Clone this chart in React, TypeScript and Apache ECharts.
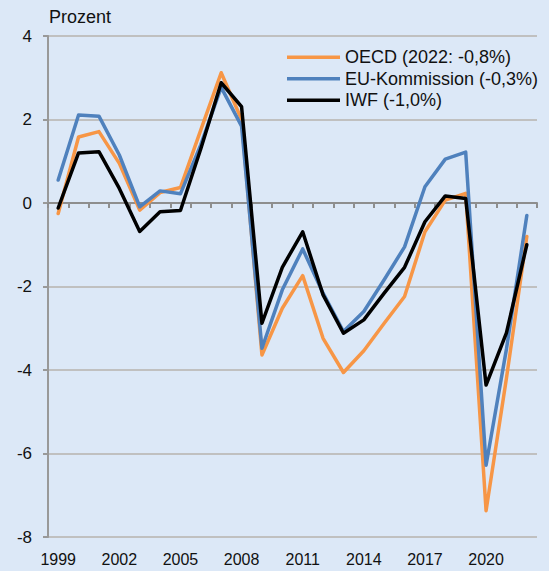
import React, { useEffect, useRef } from "react";
import * as echarts from "echarts";

const years = ["1999","2000","2001","2002","2003","2004","2005","2006","2007","2008","2009","2010","2011","2012","2013","2014","2015","2016","2017","2018","2019","2020","2021","2022"];
const oecd = [-0.25, 1.58, 1.71, 0.95, -0.17, 0.25, 0.37, 1.75, 3.12, 2.0, -3.64, -2.52, -1.74, -3.24, -4.06, -3.54, -2.88, -2.24, -0.69, 0.07, 0.23, -7.37, -4.2, -0.8];
const eu = [0.55, 2.11, 2.08, 1.15, -0.09, 0.29, 0.22, 1.4, 2.77, 1.84, -3.48, -2.08, -1.1, -2.16, -3.08, -2.6, -1.84, -1.05, 0.39, 1.05, 1.22, -6.28, -3.5, -0.3];
const iwf = [-0.12, 1.2, 1.23, 0.35, -0.68, -0.21, -0.18, 1.3, 2.88, 2.31, -2.88, -1.54, -0.69, -2.2, -3.12, -2.8, -2.16, -1.54, -0.45, 0.17, 0.11, -4.36, -3.11, -1.0];
const seriesNames = ["OECD (2022: -0,8%)", "EU-Kommission (-0,3%)", "IWF (-1,0%)"];
const yAxisTitle = "Prozent";

const FONT = "'Liberation Sans', Arial, sans-serif";

export default function App() {
  const ref = useRef<HTMLDivElement>(null);
  useEffect(() => {
    if (!ref.current) return;
    const chart = echarts.init(ref.current, null, { renderer: "svg" });
    const lineSeries = (name: string, data: number[], color: string) => ({
      name,
      type: "line",
      data,
      xAxisIndex: 0,
      yAxisIndex: 0,
      symbol: "none",
      smooth: false,
      lineStyle: { color, width: 3.5, join: "round", cap: "round" },
      itemStyle: { color },
    });
    chart.setOption({
      animation: false,
      backgroundColor: "#DCE8F7",
      textStyle: { fontFamily: FONT },
      title: {
        text: yAxisTitle,
        left: 49,
        top: 8,
        padding: 0,
        textStyle: { fontFamily: FONT, fontSize: 18, fontWeight: "normal", color: "#111" },
      },
      legend: {
        orient: "vertical",
        left: 287,
        top: 46.5,
        padding: 0,
        itemGap: 0,
        itemWidth: 53,
        itemHeight: 3.5,
        icon: "rect",
        textStyle: { fontFamily: FONT, fontSize: 18, color: "#111", lineHeight: 21.5 },
        data: seriesNames,
      },
      grid: { left: 48, right: 12, top: 36, bottom: 34, containLabel: false },
      xAxis: [
        {
          type: "category",
          data: years,
          position: "bottom",
          boundaryGap: true,
          axisLine: { show: false, onZero: false },
          axisTick: { show: false },
          axisLabel: { interval: 2, margin: 14, fontSize: 16, color: "#111", fontFamily: FONT },
          splitLine: { show: false },
        },
        {
          type: "category",
          data: years,
          position: "bottom",
          boundaryGap: true,
          axisLine: { show: true, onZero: true, lineStyle: { color: "#8E8E8E", width: 2 } },
          axisTick: { show: true, interval: 0, length: 5, lineStyle: { color: "#8E8E8E", width: 2 } },
          axisLabel: { show: false },
          splitLine: { show: false },
        },
      ],
      yAxis: {
        type: "value",
        min: -8,
        max: 4,
        interval: 2,
        axisLine: { show: true, lineStyle: { color: "#999999", width: 2 } },
        axisTick: { show: true, length: 5, lineStyle: { color: "#999999", width: 2 } },
        axisLabel: { margin: 16, fontSize: 17, color: "#111", fontFamily: FONT },
        splitLine: { show: true, lineStyle: { color: "#C0C0C0", width: 2 } },
      },
      series: [
        lineSeries(seriesNames[0], oecd, "#F79646"),
        lineSeries(seriesNames[1], eu, "#4F81BD"),
        lineSeries(seriesNames[2], iwf, "#000000"),
      ],
    });
    return () => chart.dispose();
  }, []);
  return (
    <div
      ref={ref}
      style={{ position: "fixed", left: 0, top: 0, width: 549, height: 571 }}
    />
  );
}
